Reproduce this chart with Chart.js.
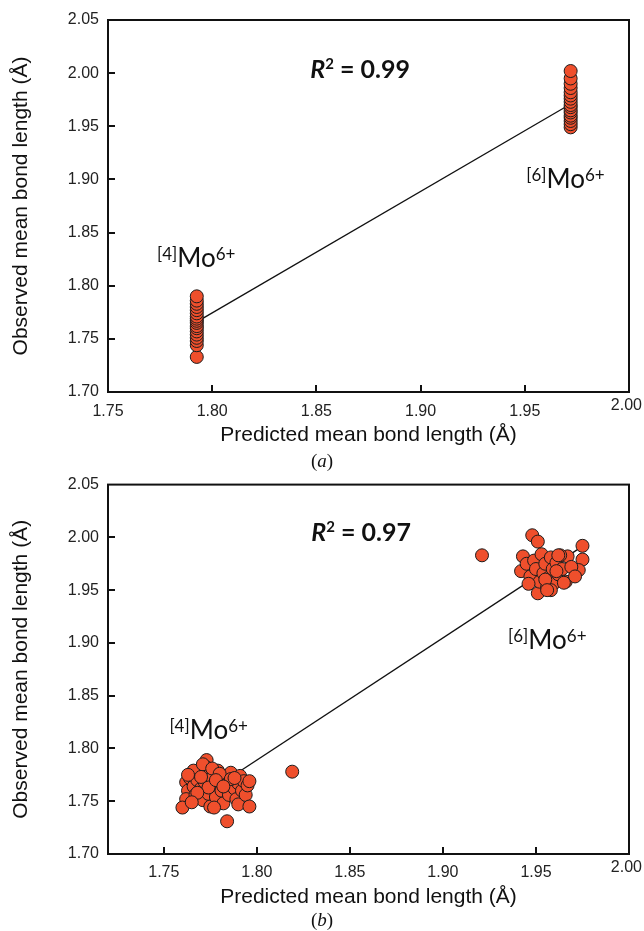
<!DOCTYPE html>
<html>
<head>
<meta charset="utf-8">
<title>Mo6+ bond lengths</title>
<script src="https://cdn.jsdelivr.net/npm/chart.js@4.4.1/dist/chart.umd.min.js"></script>
<style>
  html, body { margin: 0; padding: 0; background: #fff; }
  body { width: 644px; height: 931px; position: relative; overflow: hidden; }
  .panel { position: absolute; left: 0; width: 644px; height: 452px; }
  .caption { position: absolute; left: 0; width: 644px; text-align: center; font: 19px "Liberation Serif", serif; color: #111; }
  .caption i { font-style: italic; }
</style>
</head>
<body>
<div class="panel" style="top:0"><canvas id="chartA"></canvas></div>
<div class="panel" style="top:466px"><canvas id="chartB"></canvas></div>
<div class="caption" style="top:450px">(<i>a</i>)</div>
<div class="caption" style="top:909px">(<i>b</i>)</div>
<script>
// axis ticks
const yTicks = [1.70, 1.75, 1.80, 1.85, 1.90, 1.95, 2.00, 2.05];
const xTicksA = [1.75, 1.80, 1.85, 1.90, 1.95, 2.00];
const xTicksB = [1.75, 1.80, 1.85, 1.90, 1.95, 2.00];

// (a) predicted vs observed, [4]Mo6+ and [6]Mo6+
const aPred4 = [1.7926, 1.7926, 1.7926, 1.7926, 1.7926, 1.7926, 1.7926, 1.7926, 1.7926, 1.7926, 1.7926, 1.7926, 1.7926, 1.7926, 1.7926, 1.7926, 1.7926, 1.7926];
const aObs4  = [1.733, 1.744, 1.748, 1.751, 1.754, 1.757, 1.760, 1.762, 1.765, 1.767, 1.769, 1.771, 1.774, 1.777, 1.780, 1.783, 1.786, 1.790];
const aPred6 = [1.972, 1.972, 1.972, 1.972, 1.972, 1.972, 1.972, 1.972, 1.972, 1.972, 1.972, 1.972, 1.972, 1.972, 1.972, 1.972, 1.972];
const aObs6  = [1.949, 1.952, 1.955, 1.958, 1.960, 1.963, 1.965, 1.968, 1.970, 1.973, 1.976, 1.979, 1.982, 1.986, 1.990, 1.995, 2.002];
const aFitX = [1.7926, 1.972];
const aFitY = [1.766, 1.971];

// (b)
const bPred4 = [1.762, 1.763, 1.762, 1.760, 1.764, 1.766, 1.767, 1.768, 1.769, 1.770, 1.771, 1.772, 1.773, 1.773, 1.774, 1.775, 1.776, 1.777,
                1.778, 1.779, 1.780, 1.781, 1.782, 1.783, 1.784, 1.784, 1.785, 1.786, 1.787, 1.788, 1.789, 1.790, 1.790, 1.791, 1.792, 1.793,
                1.794, 1.795, 1.796, 1.796, 1.766, 1.771, 1.776, 1.780, 1.786, 1.774, 1.768, 1.778, 1.782, 1.788, 1.765, 1.777, 1.763, 1.770];
const bObs4  = [1.768, 1.760, 1.752, 1.744, 1.772, 1.764, 1.756, 1.770, 1.777, 1.762, 1.751, 1.768, 1.789, 1.782, 1.757, 1.745, 1.772, 1.764,
                1.754, 1.779, 1.768, 1.760, 1.748, 1.774, 1.766, 1.731, 1.756, 1.777, 1.770, 1.762, 1.752, 1.747, 1.767, 1.774, 1.760, 1.769,
                1.756, 1.765, 1.745, 1.769, 1.779, 1.785, 1.781, 1.776, 1.771, 1.763, 1.758, 1.770, 1.764, 1.772, 1.749, 1.744, 1.775, 1.773];
const bPred6 = [1.948, 1.951, 1.975, 1.975, 1.973, 1.967, 1.966, 1.951, 1.943, 1.942, 1.945, 1.947, 1.949, 1.950, 1.952, 1.953, 1.954, 1.955,
                1.956, 1.957, 1.958, 1.959, 1.960, 1.961, 1.962, 1.963, 1.964, 1.958, 1.955, 1.946, 1.969, 1.971, 1.962, 1.961, 1.965, 1.956];
const bObs6  = [2.002, 1.996, 1.992, 1.979, 1.969, 1.982, 1.958, 1.947, 1.982, 1.968, 1.975, 1.963, 1.978, 1.970, 1.958, 1.984, 1.966, 1.975,
                1.953, 1.962, 1.981, 1.970, 1.957, 1.976, 1.965, 1.983, 1.970, 1.950, 1.960, 1.956, 1.972, 1.963, 1.983, 1.968, 1.957, 1.950];
const bPredOut = [1.819, 1.921];
const bObsOut  = [1.778, 1.983];
const bFitX = [1.762, 1.978];
const bFitY = [1.745, 1.995];

const X_MAX = 2.00;
const zip = (xs, ys) => xs.map((x, i) => ({ x: x, y: ys[i] }));
const fmt = v => Number(v).toFixed(2);

const TICK_FONT = { family: '"Liberation Sans", Arial, sans-serif', size: 16 };
const TITLE_FONT = { family: '"Liberation Sans", Arial, sans-serif', size: 21 };
const NOTE_FAMILY = 'Lato, "Open Sans", sans-serif';

// black frame round the plot area, short inward tick marks,
// and the last x label pulled in from the right edge
const frameTicks = {
    id: 'frameTicks',
    afterDraw(chart) {
        const { ctx, chartArea: a, scales } = chart;
        ctx.save();
        ctx.strokeStyle = '#111';
        ctx.lineWidth = 2;
        ctx.strokeRect(a.left, a.top, a.right - a.left, a.bottom - a.top);
        ctx.beginPath();
        scales.x.ticks.forEach(t => {
            const px = Math.round(scales.x.getPixelForValue(t.value));
            if (px <= a.left + 2 || px >= a.right - 2) return;
            ctx.moveTo(px, a.bottom);
            ctx.lineTo(px, a.bottom - 7);
        });
        scales.y.ticks.forEach(t => {
            const py = Math.round(scales.y.getPixelForValue(t.value));
            if (py <= a.top + 2 || py >= a.bottom - 2) return;
            ctx.moveTo(a.left, py);
            ctx.lineTo(a.left + 7, py);
        });
        ctx.stroke();

        ctx.font = '16px "Liberation Sans", Arial, sans-serif';
        ctx.fillStyle = '#222';
        ctx.textAlign = 'right';
        ctx.textBaseline = 'middle';
        ctx.fillText(fmt(X_MAX), 642, a.bottom + 14);
        ctx.restore();
    }
};

// R² text and the [n]Mo6+ site labels
const notes = {
    id: 'notes',
    afterDatasetsDraw(chart, args, opts) {
        const { ctx, scales } = chart;
        ctx.save();
        ctx.fillStyle = '#111';
        ctx.textBaseline = 'alphabetic';

        const r = opts.r2;
        const parts = [
            { t: 'R', f: 'italic 700 25px ' + NOTE_FAMILY, dy: 0 },
            { t: '2', f: '700 15px ' + NOTE_FAMILY, dy: -9 },
            { t: ' = ' + r.text, f: '700 25px ' + NOTE_FAMILY, dy: 0 }
        ];
        let w = 0;
        parts.forEach(p => { ctx.font = p.f; p.w = ctx.measureText(p.t).width; w += p.w; });
        let x = scales.x.getPixelForValue(r.x) - w / 2;
        const y = scales.y.getPixelForValue(r.y) + 9;
        parts.forEach(p => { ctx.font = p.f; ctx.fillText(p.t, x, y + p.dy); x += p.w; });

        opts.sites.forEach(s => {
            let sx = scales.x.getPixelForValue(s.x);
            const sy = scales.y.getPixelForValue(s.y);
            [
                { t: '[' + s.cn + ']', f: '17px ' + NOTE_FAMILY, dy: -7 },
                { t: 'Mo', f: '26px ' + NOTE_FAMILY, dy: 0 },
                { t: '6+', f: '17px ' + NOTE_FAMILY, dy: -7 }
            ].forEach(p => {
                ctx.font = p.f;
                ctx.fillText(p.t, sx, sy + p.dy);
                sx += ctx.measureText(p.t).width;
            });
        });
        ctx.restore();
    }
};

function makeChart(id, cfg) {
    const ctx = document.getElementById(id)?.getContext('2d');
    if (!ctx) return;
    new Chart(ctx, {
        type: 'scatter',
        data: {
            datasets: [{
                type: 'line',
                data: zip(cfg.fitX, cfg.fitY),
                borderColor: '#111',
                borderWidth: 1.3,
                pointRadius: 0,
                fill: false,
                tension: 0,
                order: 2
            }, {
                data: cfg.points,
                backgroundColor: '#ef4f2c',
                borderColor: '#1c1c1c',
                borderWidth: 1,
                pointRadius: 6.5,
                order: 1
            }]
        },
        options: {
            responsive: true,
            maintainAspectRatio: false,
            animation: false,
            events: [],
            layout: { padding: { top: cfg.padTop, right: 15, left: 0, bottom: 0 } },
            plugins: {
                legend: { display: false },
                tooltip: { enabled: false },
                notes: cfg.notes
            },
            scales: {
                x: {
                    type: 'linear',
                    min: cfg.xMin,
                    max: X_MAX,
                    grid: { display: false, drawTicks: false },
                    border: { display: false },
                    afterBuildTicks: s => { s.ticks = cfg.xTicks.map(v => ({ value: v })); },
                    afterFit: s => {
                        s.height = cfg.xHeight;
                        s.paddingLeft = 0;
                        s.paddingRight = 0;
                    },
                    ticks: {
                        padding: cfg.tickPad,
                        autoSkip: false,
                        maxRotation: 0,
                        font: TICK_FONT,
                        color: '#222',
                        // the edge label is drawn by frameTicks
                        callback: v => (v >= X_MAX ? '' : fmt(v))
                    },
                    title: {
                        display: true,
                        text: 'Predicted mean bond length (Å)',
                        font: TITLE_FONT,
                        color: '#111',
                        padding: { top: 0, bottom: cfg.titlePad }
                    }
                },
                y: {
                    type: 'linear',
                    min: 1.70,
                    max: 2.05,
                    grid: { display: false, drawTicks: false },
                    border: { display: false },
                    afterBuildTicks: s => { s.ticks = yTicks.map(v => ({ value: v })); },
                    afterFit: s => { s.width = 108; },
                    ticks: {
                        padding: 9,
                        font: TICK_FONT,
                        color: '#222',
                        callback: fmt
                    },
                    title: {
                        display: true,
                        text: 'Observed mean bond length (Å)',
                        font: TITLE_FONT,
                        color: '#111',
                        padding: { top: 9, bottom: 0 }
                    }
                }
            }
        },
        plugins: [frameTicks, notes]
    });
}

document.addEventListener('DOMContentLoaded', () => {
    makeChart('chartA', {
        xMin: 1.75,
        xTicks: xTicksA,
        xHeight: 60,
        tickPad: 10,
        titlePad: 4,
        padTop: 20,
        fitX: aFitX,
        fitY: aFitY,
        points: zip(aPred4, aObs4).concat(zip(aPred6, aObs6)),
        notes: {
            r2: { text: '0.99', x: 1.871, y: 2.004 },
            sites: [
                { cn: 4, x: 1.7735, y: 1.818 },
                { cn: 6, x: 1.9507, y: 1.892 }
            ]
        }
    });

    makeChart('chartB', {
        xMin: 1.72,
        xTicks: xTicksB,
        xHeight: 64,
        tickPad: 9,
        titlePad: 8,
        padTop: 15,
        fitX: bFitX,
        fitY: bFitY,
        points: zip(bPred4, bObs4).concat(zip(bPred6, bObs6), zip(bPredOut, bObsOut)),
        notes: {
            r2: { text: '0.97', x: 1.856, y: 2.005 },
            sites: [
                { cn: 4, x: 1.753, y: 1.809 },
                { cn: 6, x: 1.935, y: 1.894 }
            ]
        }
    });
});
</script>
</body>
</html>
